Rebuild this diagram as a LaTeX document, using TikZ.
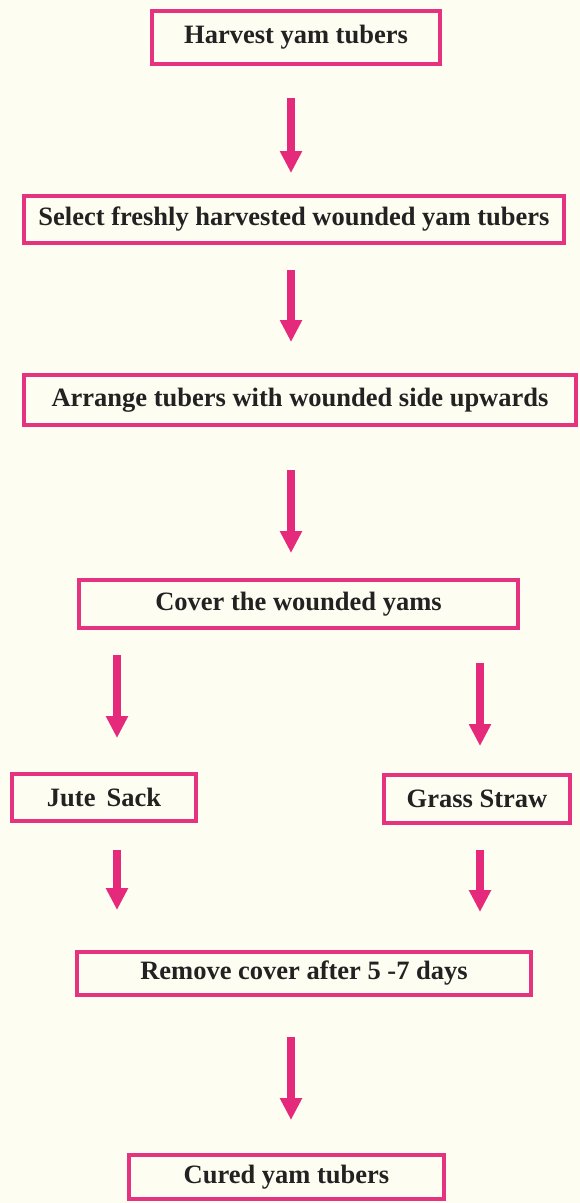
\documentclass[tikz,border=0pt]{standalone}
\usepackage{fontspec}
\setmainfont{Liberation Serif}
\usetikzlibrary{arrows.meta, positioning}
\definecolor{cureBg}{HTML}{FDFDF1}
\definecolor{cureEdge}{HTML}{E5337F}
\definecolor{cureArrow}{HTML}{E62A7B}
\definecolor{cureText}{HTML}{222222}
\tikzset{
  stepBox/.style={rectangle, draw=cureEdge, fill=cureBg, line width=4pt,
                  inner sep=0pt, text=cureText,
                  font=\fontsize{26.5}{30}\selectfont\bfseries},
  flowArrow/.style={-{Triangle[width=21pt, length=22pt]}, line width=8pt,
                    draw=cureArrow},
}
\begin{document}
\begin{tikzpicture}[x=1pt, y=-1pt]

  % ─── Canvas, same proportions as the page ────────────────────────────────
  \fill[cureBg] (0,0) rectangle (580,1203);
  \useasboundingbox (0,0) rectangle (580,1203);

  % ─── Main column of steps ────────────────────────────────────────────────
  \node[stepBox, minimum width=288pt, minimum height=53pt] (harvest) at (296,37.5) {Harvest yam tubers};
  \node[stepBox, minimum width=540pt, minimum height=47pt] (select)  at (294,219.5) {Select freshly harvested wounded yam tubers};
  \node[stepBox, minimum width=552pt, minimum height=50pt] (arrange) at (300,400) {Arrange tubers with wounded side upwards};
  \node[stepBox, minimum width=439pt, minimum height=48pt] (cover)   at (298.5,604) {Cover the wounded yams};

  % two kinds of cover, side by side
  \node[stepBox, minimum width=184pt, minimum height=47pt] (jute)  at (104,797.5) {Jute\, Sack};
  \node[stepBox, minimum width=186pt, minimum height=48pt] (grass) at (477,799) {Grass Straw};

  \node[stepBox, minimum width=454pt, minimum height=43pt] (remove) at (304,973.5) {Remove cover after 5 -7 days};
  \node[stepBox, minimum width=315pt, minimum height=44pt] (cured)  at (286.5,1177) {Cured yam tubers};

  % ─── Arrows (they stand off the boxes, as in the print) ──────────────────
  \coordinate (spine)    at (291,0);
  \coordinate (leftArm)  at (117,0);
  \coordinate (rightArm) at (480,0);

  \draw[flowArrow, shorten <=32pt, shorten >=21pt] (harvest.south -| spine) -- (select.north -| spine);
  \draw[flowArrow, shorten <=25pt, shorten >=31pt] (select.south -| spine)  -- (arrange.north -| spine);
  \draw[flowArrow, shorten <=43pt, shorten >=25pt] (arrange.south -| spine) -- (cover.north -| spine);

  \draw[flowArrow, shorten <=25pt, shorten >=34pt] (cover.south -| leftArm)  -- (jute.north -| leftArm);
  \draw[flowArrow, shorten <=33pt, shorten >=27pt] (cover.south -| rightArm) -- (grass.north -| rightArm);

  \draw[flowArrow, shorten <=27pt, shorten >=40pt] (jute.south -| leftArm)   -- (remove.north -| leftArm);
  \draw[flowArrow, shorten <=25pt, shorten >=38pt] (grass.south -| rightArm) -- (remove.north -| rightArm);

  \draw[flowArrow, shorten <=40pt, shorten >=33pt] (remove.south -| spine) -- (cured.north -| spine);

\end{tikzpicture}
\end{document}
